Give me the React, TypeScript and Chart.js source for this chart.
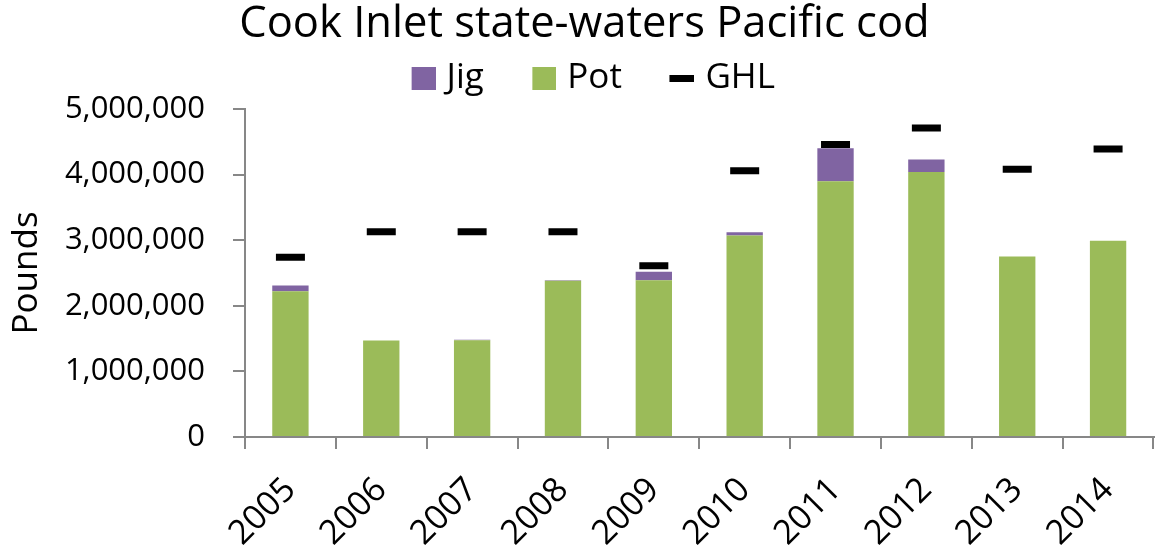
import React, { useEffect, useRef } from "react";
import { Chart, registerables, layouts } from "chart.js";

Chart.register(...registerables);

const years = ["2005", "2006", "2007", "2008", "2009", "2010", "2011", "2012", "2013", "2014"];
const potPounds = [2220000, 1470000, 1475000, 2380000, 2390000, 3070000, 3900000, 4040000, 2750000, 2990000];
const jigPounds = [90000, 0, 8000, 10000, 130000, 50000, 500000, 190000, 0, 0];
const ghlPounds = [2740000, 3130000, 3130000, 3130000, 2610000, 4060000, 4460000, 4710000, 4080000, 4390000];
const yTickLabels = ["0", "1,000,000", "2,000,000", "3,000,000", "4,000,000", "5,000,000"];
const legendOrder = ["Jig", "Pot", "GHL"];

const FONT = "'Open Sans', sans-serif";
const AXIS_GRAY = "#878787";
const JIG_COLOR = "#8064A2";
const POT_COLOR = "#9BBB59";

// legend symbol image: symbol placed inside a wider transparent canvas
function makeSymbol(imgW: number, x0: number, symW: number, symH: number, color: string, imgH: number) {
  const c = document.createElement("canvas");
  c.width = imgW;
  c.height = imgH;
  const ctx = c.getContext("2d")!;
  ctx.fillStyle = color;
  ctx.fillRect(x0, Math.round((imgH - symH) / 2), symW, symH);
  return c;
}

// small empty layout box between the legend and the plot area
const spacerPlugin = {
  id: "legendSpacer",
  beforeInit(chart: any) {
    const box: any = {
      position: "top",
      weight: 500,
      fullSize: true,
      options: {},
      top: 0,
      left: 0,
      right: 0,
      bottom: 0,
      width: 0,
      height: 0,
      update(maxWidth: number) {
        this.width = maxWidth;
        this.height = 3.5;
      },
      isHorizontal() {
        return true;
      },
      draw() {},
    };
    layouts.addBox(chart, box);
  },
};

export default function App() {
  const ref = useRef<HTMLCanvasElement | null>(null);

  useEffect(() => {
    if (!ref.current) return;
    const BOX_W = 35;
    const LEG_PAD = 31;
    const symbols: Record<string, HTMLCanvasElement> = {
      Jig: makeSymbol(48, 24, 24, 23, JIG_COLOR, 24),
      Pot: makeSymbol(48, 24, 24, 23, POT_COLOR, 24),
      GHL: makeSymbol(48, 23, 25, 7, "#000000", 24),
    };

    const chart = new Chart(ref.current, {
      type: "bar",
      plugins: [spacerPlugin],
      data: {
        labels: years,
        datasets: [
          {
            label: "Pot",
            data: potPounds,
            backgroundColor: POT_COLOR,
            borderWidth: 0,
            barPercentage: 0.4,
            categoryPercentage: 1,
            stack: "catch",
          },
          {
            label: "Jig",
            data: jigPounds,
            backgroundColor: JIG_COLOR,
            borderWidth: 0,
            barPercentage: 0.4,
            categoryPercentage: 1,
            stack: "catch",
          },
          {
            type: "line",
            label: "GHL",
            data: ghlPounds,
            showLine: false,
            pointStyle: "line",
            pointRadius: 14.5,
            pointHoverRadius: 14.5,
            pointBorderWidth: 7,
            pointBorderColor: "#000000",
            pointBackgroundColor: "#000000",
            borderColor: "#000000",
            backgroundColor: "#000000",
            stack: "ghl",
            order: -1,
          } as any,
        ],
      },
      options: {
        responsive: false,
        animation: false,
        devicePixelRatio: 1,
        layout: { padding: { left: 0, right: 6, top: 0, bottom: 0 } },
        plugins: {
          tooltip: { enabled: false },
          title: {
            display: true,
            text: "Cook Inlet state-waters Pacific cod",
            color: "#000000",
            font: { family: FONT, size: 43.5, weight: "normal", lineHeight: 1 },
            padding: { top: 3, bottom: -17 },
          },
          legend: {
            display: true,
            position: "top",
            labels: {
              usePointStyle: true,
              pointStyleWidth: BOX_W,
              color: "#000000",
              font: { family: FONT, size: 35 },
              padding: LEG_PAD,
              generateLabels: (ch: any) => {
                const base = Chart.defaults.plugins.legend.labels.generateLabels(ch);
                base.forEach((it: any) => {
                  it.pointStyle = symbols[it.text];
                  it.lineWidth = 0;
                });
                return legendOrder.map((t) => base.find((b: any) => b.text === t)).filter(Boolean);
              },
            },
          } as any,
        },
        scales: {
          x: {
            stacked: true,
            offset: true,
            grid: {
              display: true,
              drawOnChartArea: false,
              drawTicks: true,
              tickLength: 12,
              color: AXIS_GRAY,
              lineWidth: 2,
              offset: true,
            },
            border: { display: true, color: AXIS_GRAY, width: 2 },
            ticks: {
              minRotation: 45,
              maxRotation: 45,
              color: "#000000",
              font: { family: FONT, size: 34 },
              padding: 21,
            },
            afterFit: (s: any) => {
              s.height = 117;
            },
          },
          y: {
            stacked: true,
            min: 0,
            max: 5000000,
            grid: {
              display: true,
              drawOnChartArea: false,
              drawTicks: true,
              tickLength: 12,
              color: AXIS_GRAY,
              lineWidth: 2,
            },
            border: { display: true, color: AXIS_GRAY, width: 2 },
            ticks: {
              stepSize: 1000000,
              color: "#000000",
              font: { family: FONT, size: 31 },
              padding: 28,
              callback: (_v: any, i: number) => yTickLabels[i],
            },
            title: {
              display: true,
              text: "Pounds",
              color: "#000000",
              font: { family: FONT, size: 35 },
              padding: 6,
            },
            afterFit: (s: any) => {
              s.width = 245;
            },
          },
        },
      },
    });
    return () => chart.destroy();
  }, []);

  return (
    <div
      style={{
        position: "absolute",
        left: 0,
        top: 0,
        width: 1161,
        height: 554,
        overflow: "hidden",
        background: "#ffffff",
      }}
    >
      <canvas ref={ref} width={1175} height={554} style={{ display: "block" }} />
    </div>
  );
}
